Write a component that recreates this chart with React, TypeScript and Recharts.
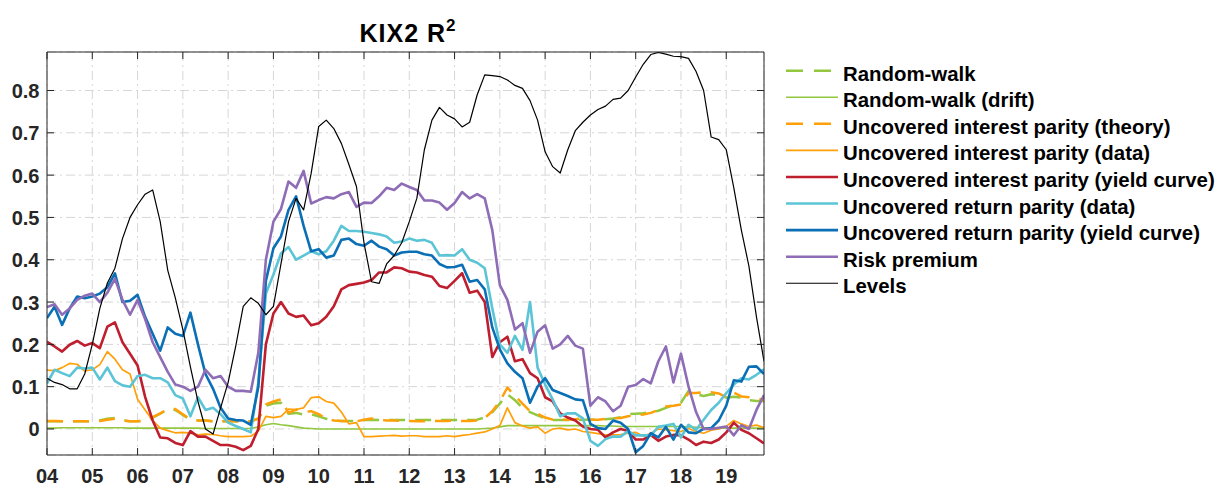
import React from 'react';
import { LineChart, Line, XAxis, YAxis, CartesianGrid } from 'recharts';

const FONT = '"Liberation Sans", Arial, Helvetica, sans-serif';
const AXIS_COLOR = '#262626';

// Time grid: one point every two months, Jan 2004 .. Nov 2019
const START_YEAR = 2004;
const STEPS_PER_YEAR = 6;
const N_POINTS = 96;
const TIMES = Array.from({ length: N_POINTS }, (_, i) => START_YEAR + i / STEPS_PER_YEAR);

const X_TICKS = [2004, 2005, 2006, 2007, 2008, 2009, 2010, 2011, 2012, 2013, 2014, 2015, 2016, 2017, 2018, 2019];
const Y_TICKS = [0, 0.1, 0.2, 0.3, 0.4, 0.5, 0.6, 0.7, 0.8];
const X_DOMAIN: [number, number] = [2004, 2019.8333];
const Y_DOMAIN: [number, number] = [-0.0615, 0.891];

const RANDOM_WALK = [
  0.018, 0.018, 0.018, 0.018, 0.018, 0.018,
  0.018, 0.02, 0.024, 0.026, 0.021, 0.018,
  0.018, 0.02, 0.027, 0.036, 0.047, 0.045,
  0.033, 0.022, 0.02, 0.02, 0.018, 0.018,
  0.018, 0.018, 0.018, 0.018, 0.024, 0.055,
  0.06, 0.062, 0.036, 0.038, 0.034, 0.035,
  0.03, 0.024, 0.02, 0.019, 0.019, 0.019,
  0.021, 0.022, 0.021, 0.021, 0.021, 0.021,
  0.021, 0.021, 0.021, 0.021, 0.021, 0.021,
  0.021, 0.021, 0.021, 0.022, 0.027, 0.04,
  0.06, 0.082, 0.068, 0.05, 0.04, 0.032,
  0.025, 0.021, 0.021, 0.021, 0.021, 0.022,
  0.022, 0.022, 0.023, 0.025, 0.028, 0.035,
  0.036, 0.037, 0.04, 0.043, 0.05, 0.057,
  0.062, 0.09, 0.082, 0.078, 0.082, 0.08,
  0.074, 0.076, 0.074, 0.068, 0.066, 0.066,
];

const RANDOM_WALK_DRIFT = [
  0.002, 0.002, 0.003, 0.003, 0.003, 0.003,
  0.003, 0.003, 0.003, 0.003, 0.003, 0.002,
  0.002, 0.002, 0.002, 0.002, 0.002, 0.002,
  0.002, 0.002, 0.002, 0.001, 0.001, 0.001,
  0.001, 0.001, 0.001, 0.001, 0.005, 0.01,
  0.013, 0.01, 0.008, 0.005, 0.002, 0.001,
  0.0, 0.0, 0.0, 0.0, 0.0, 0.0,
  0.0, 0.0, 0.0, 0.0, 0.0, 0.0,
  0.0, 0.0, 0.0, 0.0, 0.0, 0.0,
  0.0, 0.0, 0.0, 0.0, 0.001, 0.002,
  0.005, 0.008, 0.008, 0.008, 0.008, 0.008,
  0.008, 0.008, 0.008, 0.008, 0.008, 0.008,
  0.008, 0.008, 0.007, 0.007, 0.006, 0.006,
  0.006, 0.006, 0.006, 0.006, 0.006, 0.006,
  0.006, 0.005, 0.004, 0.003, 0.002, 0.002,
  0.002, 0.002, 0.002, 0.002, 0.002, 0.002,
];

const UIP_THEORY = [
  0.019, 0.019, 0.018, 0.018, 0.018, 0.018,
  0.018, 0.019, 0.022, 0.024, 0.02, 0.018,
  0.018, 0.02, 0.028, 0.037, 0.047, 0.047,
  0.035, 0.022, 0.02, 0.02, 0.018, 0.018,
  0.018, 0.018, 0.018, 0.018, 0.025, 0.058,
  0.065, 0.07, 0.038, 0.046, 0.04, 0.042,
  0.035, 0.025, 0.02, 0.019, 0.018, 0.018,
  0.022, 0.025, 0.022, 0.02, 0.02, 0.019,
  0.019, 0.018, 0.018, 0.019, 0.019, 0.019,
  0.02, 0.019, 0.019, 0.02, 0.026, 0.042,
  0.065, 0.098, 0.078, 0.06, 0.042, 0.036,
  0.027, 0.022, 0.022, 0.022, 0.023, 0.025,
  0.022, 0.022, 0.024, 0.025, 0.026, 0.03,
  0.033, 0.034, 0.038, 0.045, 0.053, 0.055,
  0.058, 0.085, 0.085, 0.087, 0.087, 0.084,
  0.075, 0.086, 0.077, 0.075, 0.072, 0.069,
];

const UIP_DATA = [
  0.139, 0.138, 0.145, 0.155, 0.153, 0.137,
  0.14, 0.152, 0.183, 0.165, 0.14, 0.13,
  0.07, 0.045, 0.02, 0.002, -0.004, -0.009,
  -0.008, -0.01, -0.014, -0.012, -0.013, -0.016,
  -0.018, -0.018, -0.018, -0.017, -0.005, 0.03,
  0.027, 0.03, 0.047, 0.046, 0.05, 0.074,
  0.076, 0.065, 0.061, 0.04, 0.012, 0.015,
  -0.018, -0.018, -0.017, -0.016, -0.015, -0.017,
  -0.016, -0.016, -0.018, -0.018, -0.018, -0.016,
  -0.018, -0.015, -0.013, -0.01, -0.007, 0.0,
  0.008, 0.05, 0.015, 0.007, 0.002, 0.005,
  -0.01, 0.0, 0.002, -0.002, 0.0, -0.006,
  -0.008, -0.011, -0.014, -0.014, -0.013, -0.01,
  -0.008, -0.017, -0.01, 0.0, -0.002, -0.004,
  -0.006, 0.001, -0.006, -0.01, -0.003, 0.0,
  0.006, 0.02, 0.012, 0.006, 0.009, 0.003,
];

const UIP_YIELD_CURVE = [
  0.206, 0.195, 0.183, 0.199, 0.208, 0.197,
  0.203, 0.191, 0.242, 0.252, 0.205, 0.178,
  0.15, 0.076, 0.02, -0.02, -0.022, -0.033,
  -0.038, -0.005, -0.018, -0.018, -0.028, -0.038,
  -0.038, -0.042, -0.05, -0.04, 0.0, 0.2,
  0.273, 0.3, 0.273, 0.265, 0.268, 0.245,
  0.25, 0.265, 0.29, 0.33, 0.34, 0.343,
  0.346, 0.352, 0.37, 0.37, 0.382, 0.38,
  0.372, 0.37, 0.364, 0.36, 0.338, 0.333,
  0.35, 0.368, 0.322, 0.327, 0.3, 0.17,
  0.205, 0.218, 0.16, 0.165, 0.132, 0.12,
  0.075, 0.065, 0.037, 0.027, 0.02, 0.006,
  0.0, -0.002, -0.02, -0.008, 0.0, -0.005,
  -0.025, -0.025, -0.014, -0.028, -0.018, -0.014,
  -0.015, -0.025, -0.038, -0.03, -0.033, -0.025,
  -0.008, 0.015, -0.002, -0.01, -0.022, -0.034,
];

const URP_DATA = [
  0.108, 0.14, 0.132, 0.125, 0.145, 0.143,
  0.145, 0.117, 0.145, 0.113, 0.103, 0.1,
  0.125, 0.128, 0.12, 0.12, 0.11, 0.08,
  0.072, 0.03, 0.075, 0.045, 0.05, 0.035,
  0.015, 0.007, 0.0, -0.008, 0.11, 0.32,
  0.365, 0.415, 0.43, 0.4, 0.41, 0.42,
  0.413, 0.42, 0.445, 0.48, 0.468, 0.468,
  0.466, 0.463, 0.46, 0.455, 0.44, 0.443,
  0.45, 0.445, 0.447, 0.44, 0.41, 0.411,
  0.41, 0.425, 0.4, 0.393, 0.38, 0.285,
  0.2, 0.18, 0.22, 0.187, 0.3, 0.145,
  0.105, 0.07, 0.03, 0.037, 0.037, 0.025,
  -0.028, -0.04, -0.024, -0.018, -0.018, -0.005,
  -0.015, -0.015, -0.015, 0.005, 0.008, 0.012,
  -0.02, 0.01, -0.002, 0.022, 0.045, 0.062,
  0.085, 0.105, 0.12, 0.117, 0.128, 0.141,
];

const URP_YIELD_CURVE = [
  0.262, 0.289, 0.246, 0.285, 0.313, 0.309,
  0.313, 0.32, 0.335, 0.368, 0.3, 0.303,
  0.317, 0.265, 0.225, 0.185, 0.24, 0.225,
  0.22, 0.275, 0.2, 0.13, 0.095, 0.05,
  0.025, 0.021, 0.02, 0.01, 0.1, 0.35,
  0.427, 0.455, 0.518, 0.55, 0.48, 0.42,
  0.425, 0.405, 0.41, 0.447, 0.45, 0.437,
  0.433, 0.445, 0.431, 0.425, 0.41, 0.417,
  0.419, 0.419, 0.413, 0.41, 0.39, 0.382,
  0.383, 0.388, 0.348, 0.352, 0.33, 0.24,
  0.188, 0.155, 0.135, 0.12, 0.062, 0.1,
  0.12, 0.092, 0.085, 0.078, 0.07, 0.068,
  0.012, 0.002, 0.0, 0.02, 0.015, 0.0,
  -0.055, -0.04, -0.01, -0.02, 0.005, -0.025,
  0.01, -0.008, -0.01, 0.0, 0.002, 0.02,
  0.055, 0.115, 0.112, 0.147, 0.148, 0.13,
];

const RISK_PREMIUM = [
  0.288, 0.295, 0.27, 0.285, 0.305, 0.315,
  0.32, 0.3, 0.322, 0.355, 0.305, 0.27,
  0.305, 0.26, 0.205, 0.17, 0.135, 0.105,
  0.1, 0.09, 0.1, 0.14, 0.12, 0.125,
  0.1, 0.09, 0.09, 0.088, 0.18, 0.4,
  0.49, 0.52, 0.585, 0.57, 0.61, 0.533,
  0.541, 0.548, 0.545, 0.555, 0.56, 0.525,
  0.535, 0.534, 0.55, 0.57, 0.565, 0.58,
  0.572, 0.565, 0.54, 0.54, 0.535, 0.518,
  0.534, 0.56, 0.545, 0.555, 0.545, 0.47,
  0.34, 0.305, 0.235, 0.25, 0.18, 0.23,
  0.245, 0.19, 0.2, 0.22, 0.197, 0.19,
  0.055, 0.075, 0.065, 0.042, 0.055, 0.1,
  0.104, 0.118, 0.108, 0.16, 0.195, 0.11,
  0.178, 0.1, 0.04, 0.0, 0.0, 0.003,
  0.006, -0.015, 0.009, 0.0, 0.045, 0.08,
];

const LEVELS = [
  0.12, 0.11, 0.105, 0.095, 0.095, 0.13,
  0.2, 0.285, 0.345, 0.38, 0.45, 0.5,
  0.53, 0.555, 0.565, 0.49, 0.375, 0.31,
  0.235, 0.147, 0.065, 0.0, -0.012, 0.05,
  0.11, 0.195, 0.29, 0.31, 0.297, 0.27,
  0.29, 0.39, 0.49, 0.545, 0.518, 0.604,
  0.715, 0.73, 0.71, 0.675, 0.625, 0.573,
  0.44, 0.348, 0.344, 0.39, 0.41, 0.44,
  0.49, 0.545, 0.66, 0.73, 0.76, 0.742,
  0.733, 0.714, 0.725, 0.79, 0.837, 0.835,
  0.833, 0.825, 0.812, 0.805, 0.776, 0.73,
  0.655, 0.62, 0.605, 0.66, 0.705, 0.725,
  0.742, 0.755, 0.763, 0.779, 0.782, 0.8,
  0.832, 0.862, 0.885, 0.89, 0.886, 0.881,
  0.88, 0.876, 0.845, 0.8, 0.69, 0.684,
  0.66, 0.57, 0.47, 0.385, 0.265, 0.16,
];

const GREEN = '#92C73F';
const ORANGE = '#FFA00A';
const RED = '#BF1E2E';
const LIGHT_BLUE = '#5BC4D6';
const DARK_BLUE = '#0B6FB6';
const PURPLE = '#8E6CB6';
const BLACK = '#000000';

type Series = { key: string; name: string; color: string; width: number; dash?: string; values: number[] };

const SERIES: Series[] = [
  { key: 'rw', name: 'Random-walk', color: GREEN, width: 2.5, dash: '16 10', values: RANDOM_WALK },
  { key: 'rwd', name: 'Random-walk (drift)', color: GREEN, width: 1.6, values: RANDOM_WALK_DRIFT },
  { key: 'uipt', name: 'Uncovered interest parity (theory)', color: ORANGE, width: 2.5, dash: '16 10', values: UIP_THEORY },
  { key: 'uipd', name: 'Uncovered interest parity (data)', color: ORANGE, width: 1.7, values: UIP_DATA },
  { key: 'uipy', name: 'Uncovered interest parity (yield curve)', color: RED, width: 2.6, values: UIP_YIELD_CURVE },
  { key: 'urpd', name: 'Uncovered return parity (data)', color: LIGHT_BLUE, width: 2.6, values: URP_DATA },
  { key: 'urpy', name: 'Uncovered return parity (yield curve)', color: DARK_BLUE, width: 2.6, values: URP_YIELD_CURVE },
  { key: 'rp', name: 'Risk premium', color: PURPLE, width: 2.6, values: RISK_PREMIUM },
  { key: 'lev', name: 'Levels', color: BLACK, width: 1.2, values: LEVELS },
];

const DATA = TIMES.map((t, i) => {
  const row: Record<string, number> = { t };
  SERIES.forEach((s) => {
    row[s.key] = s.values[i];
  });
  return row;
});

const TICK_LEN = 7;

const BottomTick = (props: any) => {
  const { x, y, payload } = props;
  const label = String(payload.value).slice(2);
  return (
    <g>
      <line x1={x} y1={y} x2={x} y2={y - TICK_LEN} stroke={AXIS_COLOR} strokeWidth={1} />
      <text x={x} y={y + 28} textAnchor="middle" fontFamily={FONT} fontWeight="bold" fontSize={20} fill={AXIS_COLOR}>
        {label}
      </text>
    </g>
  );
};

const TopTick = (props: any) => {
  const { x, y } = props;
  return <line x1={x} y1={y} x2={x} y2={y + TICK_LEN} stroke={AXIS_COLOR} strokeWidth={1} />;
};

const LeftTick = (props: any) => {
  const { x, y, payload } = props;
  const v = Number(payload.value);
  const label = v === 0 ? '0' : v.toFixed(1);
  return (
    <g>
      <line x1={x} y1={y} x2={x + TICK_LEN} y2={y} stroke={AXIS_COLOR} strokeWidth={1} />
      <text x={x - 7.5} y={y + 7.5} textAnchor="end" fontFamily={FONT} fontWeight="bold" fontSize={20} fill={AXIS_COLOR}>
        {label}
      </text>
    </g>
  );
};

const RightTick = (props: any) => {
  const { x, y } = props;
  return <line x1={x} y1={y} x2={x - TICK_LEN} y2={y} stroke={AXIS_COLOR} strokeWidth={1} />;
};

const LEGEND_X1 = 786;
const LEGEND_X2 = 838;
const LEGEND_TEXT_X = 843;
const LEGEND_Y0 = 70.7;
const LEGEND_DY = 26.57;

export default function App() {
  return (
    <div style={{ position: 'absolute', left: 0, top: 0, width: 1218, height: 486, background: '#ffffff' }}>
      <LineChart width={1218} height={486} data={DATA} margin={{ top: 51, right: 453, bottom: 1, left: 7 }}>
        <CartesianGrid stroke="#d6d6d6" strokeWidth={1} strokeDasharray="9 4 2 4" />
        <XAxis
          dataKey="t"
          type="number"
          domain={X_DOMAIN}
          ticks={X_TICKS}
          interval={0}
          allowDataOverflow
          height={30}
          tickSize={0}
          tickMargin={0}
          tickLine={false}
          axisLine={{ stroke: AXIS_COLOR, strokeWidth: 1 }}
          tick={(p: any) => <BottomTick {...p} />}
        />
        <XAxis
          xAxisId="top"
          orientation="top"
          dataKey="t"
          type="number"
          domain={X_DOMAIN}
          ticks={X_TICKS}
          interval={0}
          allowDataOverflow
          height={1}
          tickSize={0}
          tickMargin={0}
          tickLine={false}
          axisLine={{ stroke: AXIS_COLOR, strokeWidth: 1 }}
          tick={(p: any) => <TopTick {...p} />}
        />
        <YAxis
          type="number"
          domain={Y_DOMAIN}
          ticks={Y_TICKS}
          interval={0}
          allowDataOverflow
          width={40}
          tickSize={0}
          tickMargin={0}
          tickLine={false}
          axisLine={{ stroke: AXIS_COLOR, strokeWidth: 1 }}
          tick={(p: any) => <LeftTick {...p} />}
        />
        <YAxis
          yAxisId="right"
          orientation="right"
          type="number"
          domain={Y_DOMAIN}
          ticks={Y_TICKS}
          interval={0}
          allowDataOverflow
          width={1}
          tickSize={0}
          tickMargin={0}
          tickLine={false}
          axisLine={{ stroke: AXIS_COLOR, strokeWidth: 1 }}
          tick={(p: any) => <RightTick {...p} />}
        />
        {SERIES.map((s) => (
          <Line
            key={s.key}
            type="linear"
            dataKey={s.key}
            name={s.name}
            stroke={s.color}
            strokeWidth={s.width}
            strokeDasharray={s.dash}
            strokeLinejoin="round"
            dot={false}
            activeDot={false}
            isAnimationActive={false}
          />
        ))}
      </LineChart>
      <svg
        width={1218}
        height={486}
        style={{ position: 'absolute', left: 0, top: 0, pointerEvents: 'none' }}
      >
        <text x={408} y={42} textAnchor="middle" fontFamily={FONT} fontWeight="bold" fontSize={25} letterSpacing={1} fill="#000">
          KIX2 R
          <tspan fontSize={17} dy={-11}>2</tspan>
        </text>
        {SERIES.map((s, k) => {
          const y = LEGEND_Y0 + k * LEGEND_DY;
          return (
            <g key={s.key}>
              <line
                x1={LEGEND_X1}
                x2={LEGEND_X2}
                y1={y}
                y2={y}
                stroke={s.color}
                strokeWidth={s.width}
                strokeDasharray={s.dash ? '17 11' : undefined}
              />
              <text x={LEGEND_TEXT_X} y={y + 10} fontFamily={FONT} fontWeight="bold" fontSize={20.4} fill="#000">
                {s.name}
              </text>
            </g>
          );
        })}
      </svg>
    </div>
  );
}
